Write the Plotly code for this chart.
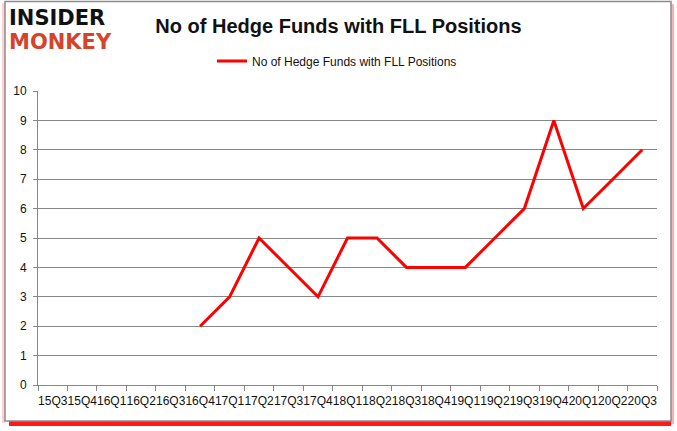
import plotly.graph_objects as go

quarters = ["15Q3", "15Q4", "16Q1", "16Q2", "16Q3", "16Q4", "17Q1", "17Q2", "17Q3", "17Q4",
            "18Q1", "18Q2", "18Q3", "18Q4", "19Q1", "19Q2", "19Q3", "19Q4", "20Q1", "20Q2", "20Q3"]
hedge_funds = [None, None, None, None, None, 2, 3, 5, 4, 3,
               5, 5, 4, 4, 4, 5, 6, 9, 6, 7, 8]
series_name = "No of Hedge Funds with FLL Positions"
title_text = "No of Hedge Funds with FLL Positions"

W, H = 677, 431
L, R, T, B = 38, 657, 91, 385


def px(x):
    return (x - L) / (R - L)


def py(y):
    return (B - y) / (B - T)


fig = go.Figure()
fig.add_trace(go.Scatter(
    x=quarters, y=hedge_funds, mode="lines", name=series_name,
    line=dict(color="#ff0000", width=3), connectgaps=False,
))

shapes = [
    # shadows
    dict(type="rect", xref="paper", yref="paper", layer="below",
         x0=px(9), x1=px(671), y0=py(426), y1=py(421),
         fillcolor="#ff1a1a", line=dict(width=0)),
    dict(type="rect", xref="paper", yref="paper", layer="below",
         x0=px(671), x1=px(674), y0=py(424), y1=py(4),
         fillcolor="#ffb0b0", line=dict(width=0)),
    dict(type="rect", xref="paper", yref="paper", layer="below",
         x0=px(2), x1=px(5), y0=py(423), y1=py(3),
         fillcolor="#ffd0d0", line=dict(width=0)),
    # frame
    dict(type="rect", xref="paper", yref="paper", layer="below",
         x0=px(5), x1=px(671), y0=py(421), y1=py(1.5),
         fillcolor="white", line=dict(color="#8c8c8c", width=1.5)),
]

logo_font = "DejaVu Sans, Liberation Sans, sans-serif"
annotations = [
    dict(text="<b>INSIDER</b>", xref="paper", yref="paper", x=px(7), y=py(18),
         xanchor="left", yanchor="middle", showarrow=False,
         font=dict(family=logo_font, size=21, color="#111111")),
    dict(text="<b>MONKEY</b>", xref="paper", yref="paper", x=px(7), y=py(42),
         xanchor="left", yanchor="middle", showarrow=False,
         font=dict(family=logo_font, size=21, color="#d5432d")),
]

tick_font = dict(family="Liberation Sans, Arial, sans-serif", size=12, color="#111111")

fig.update_layout(
    width=W, height=H,
    margin=dict(l=L, r=W - R, t=T, b=H - B, autoexpand=False),
    paper_bgcolor="white", plot_bgcolor="rgba(0,0,0,0)",
    title=dict(text="<b>" + title_text + "</b>", x=0.5, xref="container", xanchor="center",
               y=1 - 26 / H, yref="container", yanchor="middle",
               font=dict(family="Liberation Sans, Arial, sans-serif", size=20, color="#111111")),
    showlegend=True,
    legend=dict(orientation="h", x=px(337), xanchor="center", y=py(61), yanchor="middle",
                font=dict(family="Liberation Sans, Arial, sans-serif", size=12, color="#111111"),
                bgcolor="rgba(0,0,0,0)", itemwidth=30),
    shapes=shapes,
    annotations=annotations,
    xaxis=dict(type="category", categoryorder="array", categoryarray=quarters,
               showgrid=False, showline=True, linecolor="#878787", linewidth=1,
               ticks="outside", tickson="boundaries", ticklen=5, tickcolor="#878787",
               tickangle=0, tickfont=tick_font, ticklabelstandoff=5,
               range=[-0.5, len(quarters) - 0.5], zeroline=False, fixedrange=True),
    yaxis=dict(range=[0, 10], dtick=1, tick0=0, showgrid=True, gridcolor="#878787", gridwidth=1,
               showline=True, linecolor="#878787", linewidth=1,
               ticks="outside", ticklen=4, tickcolor="#878787", ticklabelstandoff=4,
               tickfont=tick_font, zeroline=False, fixedrange=True),
)

fig.write_html("out.html", config={"displayModeBar": False},
               post_script="document.body.style.margin='0';document.body.style.overflow='hidden';")
